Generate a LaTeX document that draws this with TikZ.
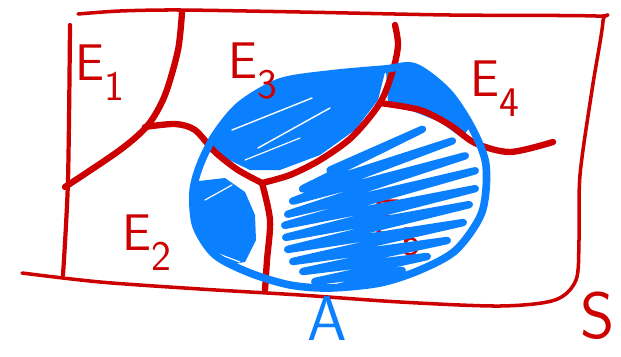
\documentclass[tikz,border=0pt]{standalone}
\usepackage{tikz}

\definecolor{penred}{HTML}{CC0000}
\definecolor{penblue}{HTML}{0A80FF}

% 添字（手書き風に少し下げる）
\newcommand{\idx}[1]{\raisebox{-0.4em}{\fontsize{36}{36}\selectfont #1}}

\begin{document}
\begin{tikzpicture}[x=0.03cm, y=-0.03cm, line join=round, line cap=round,
    redline/.style={penred, line width=5.4pt},
    frameline/.style={penred, line width=3pt},
    hatch/.style={penblue, line width=6.2pt, rounded corners=4pt},
    lab/.style={penred, anchor=base west, inner sep=0pt,
                font=\sffamily\fontsize{44}{44}\selectfont}]

    \useasboundingbox (0,0) rectangle (621,356);

    % 事象Aの輪郭
    \def\outlineA{plot[smooth cycle] coordinates {(200,165) (215,135) (240,105)
        (280,82) (330,74) (385,69) (415,67) (448,92) (472,128) (486,165)
        (482,212) (456,250) (420,270) (380,283) (330,288) (290,285)
        (250,273) (215,255) (196,226) (193,192)}}

    % 分割の交点
    \coordinate (J) at (262,183);
    \coordinate (K) at (380,103);

    % ラベル E5（網掛けの下）
    \node[lab] (e5) at (372,235) {E\idx{5}};

    % 網掛け
    \begin{scope}
        \clip \outlineA;
        % E3 と A
        \fill[penblue] (205,150) -- (235,100) -- (290,70) -- (388,60)
            -- (378,100) -- (355,130) -- (320,155) -- (280,170)
            -- (250,170) -- (225,158) -- cycle;
        \draw[white, line width=1.2pt] (232,130) -- (312,98);
        \draw[white, line width=1.2pt] (258,148) -- (330,108);
        \draw[white, line width=1pt] (245,160) -- (300,138);
        % E2 と A
        \fill[penblue] (190,182) -- (225,178) -- (245,192) -- (255,215)
            -- (256,240) -- (245,262) -- (222,266) -- (190,250) -- cycle;
        \draw[white, line width=1pt] (205,200) -- (232,185);
        \draw[white, line width=1pt] (208,250) -- (240,262);
        % E4 と A
        \fill[penblue] (386,70) -- (415,62) -- (447,88) -- (472,124)
            -- (462,138) -- (440,122) -- (415,112) -- (388,104) -- cycle;
    \end{scope}
    \begin{scope}
        \clip \outlineA;
        \clip (J) -- (290,175) -- (320,160) -- (352,137) -- (K)
            -- (420,110) -- (450,125) -- (475,143) -- (500,150)
            -- (500,300) -- (268,300) -- cycle;
        % E5 と A
        \draw[hatch] (330,170) -- (425,128) -- (300,190) -- (455,140)
            -- (290,202) -- (468,155) -- (285,215) -- (478,170)
            -- (282,226) -- (478,188) -- (283,238) -- (472,204)
            -- (285,250) -- (466,222) -- (290,262) -- (450,240)
            -- (300,272) -- (430,256) -- (312,282) -- (405,270)
            -- (335,288) -- (380,282);
    \end{scope}

    % 標本空間 S の枠
    \draw[frameline] plot[smooth] coordinates {(78,14) (120,11) (180,10)
        (300,12) (450,15) (596,16) (603,21) (592,90) (580,175) (579,240)
        (576,280) (555,300) (500,306) (400,302) (300,295) (200,289)
        (100,282) (22,273)};
    \draw[frameline, line width=3.6pt] plot[smooth] coordinates {(70,25) (68,180) (63,275)};

    % 分割 E1, ..., E5 の境界
    \draw[redline] plot[smooth] coordinates {(182,12) (178,50) (165,95)
        (148,125) (120,150) (65,187)};
    \draw[redline] plot[smooth] coordinates {(145,127) (175,124) (195,130)
        (215,152) (238,170) (J)};
    \draw[redline] plot[smooth] coordinates {(J) (270,220) (267,260) (265,290)};
    \draw[redline] plot[smooth] coordinates {(J) (290,175) (320,160)
        (352,137) (K) (393,70) (398,45) (395,25)};
    \draw[redline] plot[smooth] coordinates {(K) (420,110) (450,125)
        (475,143) (510,152) (553,142)};

    % Aの輪郭（実線）
    \draw[penblue, line width=6.5pt] \outlineA;

    % ラベル
    \node[lab] (e1) at (75,80) {E\idx{1}};
    \node[lab] (e2) at (122,250) {E\idx{2}};
    \node[lab] (e3) at (228,78) {E\idx{3}};
    \node[lab] (e4) at (470,96) {E\idx{4}};
    \node[lab, penblue, font=\sffamily\fontsize{54}{54}\selectfont] (a) at (307,340) {A};
    \node[lab, font=\sffamily\fontsize{56}{56}\selectfont] (s) at (580,338) {S};

\end{tikzpicture}
\end{document}
